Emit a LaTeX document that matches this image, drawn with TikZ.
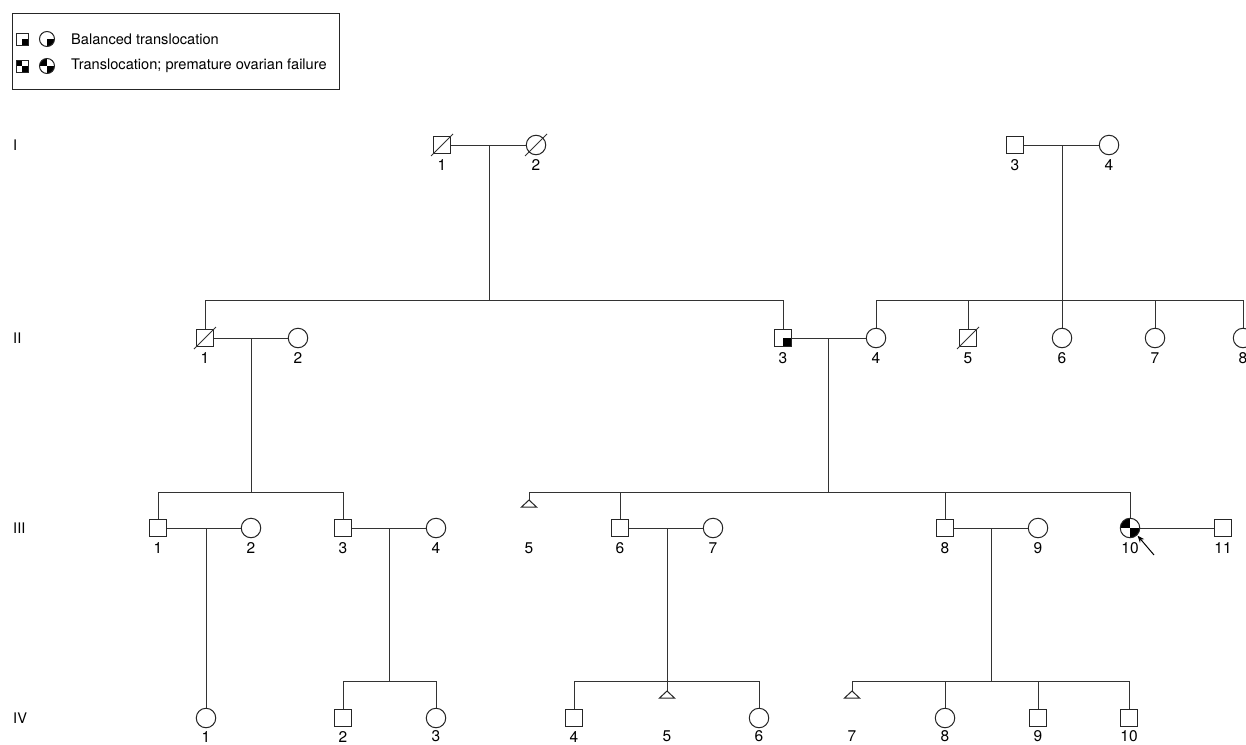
\documentclass[tikz,border=0pt]{standalone}
\usepackage{fontspec}
\setmainfont{TeX Gyre Heros}
\usetikzlibrary{arrows.meta,calc}
\begin{document}
\begin{tikzpicture}[x=1pt,y=-1pt,
  ln/.style={draw=black!80,line width=1pt},
  sym/.style={draw=black!85,line width=1pt,fill=white,inner sep=0pt,outer sep=0pt},
  male/.style={sym,rectangle,minimum size=17.5pt},
  female/.style={sym,circle,minimum size=19.5pt},
  lmale/.style={sym,rectangle,minimum size=12pt},
  lfemale/.style={sym,circle,minimum size=15pt},
  num/.style={font=\fontsize{15.5}{18}\selectfont,inner sep=0pt},
  txt/.style={font=\fontsize{14.6}{17}\selectfont,inner sep=0pt,anchor=west},
  qbr/.style={path picture={\fill[black] (path picture bounding box.center) rectangle (path picture bounding box.south east);}},
  qchk/.style={path picture={\fill[black] (path picture bounding box.center) rectangle (path picture bounding box.south east);
                              \fill[black] (path picture bounding box.center) rectangle (path picture bounding box.north west);}},
  tri/.style={draw=black!85,line width=1pt,fill=white},
  ptr/.style={draw=black,line width=1pt,-{Stealth[length=7pt,width=5.5pt]}},
]
\useasboundingbox (0,0) rectangle (1246,744);

% ---------- legend ----------
\draw[draw=black!85,line width=0.8pt] (12,13) rectangle (339,89);
\node[lmale,qbr] (Lsq1) at (22,39) {};
\node[lfemale,qbr] (Lci1) at (47,39) {};
\node[txt] (Lt1) at (71,39) {Balanced translocation};
\node[lmale,qchk] (Lsq2) at (22,66) {};
\node[lfemale,qchk] (Lci2) at (47,66) {};
\node[txt] (Lt2) at (71,66) {Translocation; premature ovarian failure};

% ---------- generation labels ----------
\node[txt] (gI) at (13,145) {I};
\node[txt] (gII) at (13,338) {II};
\node[txt] (gIII) at (13,528) {III};
\node[txt] (gIV) at (13,718) {IV};

% ---------- generation I ----------
\node[male] (I1) at (442,145) {};
\node[female] (I2) at (536,145) {};
\node[male] (I3) at (1015,145) {};
\node[female] (I4) at (1109,145) {};
\draw[ln] ($(I1.center)+(-11,11)$) -- ($(I1.center)+(11,-11)$);
\draw[ln] ($(I2.center)+(-11,11)$) -- ($(I2.center)+(11,-11)$);
\node[num] (lI1) at (442,165) {1};
\node[num] (lI2) at (536,165) {2};
\node[num] (lI3) at (1015,165) {3};
\node[num] (lI4) at (1109,165) {4};

% ---------- generation II ----------
\node[male] (II1) at (205,338) {};
\node[female] (II2) at (298,338) {};
\node[male,qbr] (II3) at (783,338) {};
\node[female] (II4) at (876,338) {};
\node[male] (II5) at (968,338) {};
\node[female] (II6) at (1062,338) {};
\node[female] (II7) at (1155,338) {};
\node[female] (II8) at (1243,338) {};
\draw[ln] ($(II1.center)+(-11,11)$) -- ($(II1.center)+(11,-11)$);
\draw[ln] ($(II5.center)+(-11,11)$) -- ($(II5.center)+(11,-11)$);
\node[num] (lII1) at (205,358) {1};
\node[num] (lII2) at (298,358) {2};
\node[num] (lII3) at (783,358) {3};
\node[num] (lII4) at (876,358) {4};
\node[num] (lII5) at (968,358) {5};
\node[num] (lII6) at (1062,358) {6};
\node[num] (lII7) at (1155,358) {7};
\node[num] (lII8) at (1243,358) {8};

% ---------- generation III ----------
\coordinate (III5) at (529,500);
\node[male] (III1) at (158,528) {};
\node[female] (III2) at (251,528) {};
\node[male] (III3) at (343,528) {};
\node[female] (III4) at (436,528) {};
\node[male] (III6) at (620,528) {};
\node[female] (III7) at (713,528) {};
\node[male] (III8) at (945,528) {};
\node[female] (III9) at (1038,528) {};
\node[female,qchk] (III10) at (1130,528) {};
\node[male] (III11) at (1223,528) {};
\node[num] (lIII1) at (158,548) {1};
\node[num] (lIII2) at (251,548) {2};
\node[num] (lIII3) at (343,548) {3};
\node[num] (lIII4) at (436,548) {4};
\node[num] (lIII5) at (529,548) {5};
\node[num] (lIII6) at (620,548) {6};
\node[num] (lIII7) at (713,548) {7};
\node[num] (lIII8) at (945,548) {8};
\node[num] (lIII9) at (1038,548) {9};
\node[num] (lIII10) at (1130,548) {10};
\node[num] (lIII11) at (1223,548) {11};

% ---------- generation IV ----------
\node[female] (IV1) at (206,718) {};
\node[male] (IV2) at (343,718) {};
\node[female] (IV3) at (436,718) {};
\node[male] (IV4) at (574,718) {};
\coordinate (IV5) at (667,691);
\node[female] (IV6) at (759,718) {};
\coordinate (IV7) at (852,691);
\node[female] (IV8) at (945,718) {};
\node[male] (IV9) at (1038,718) {};
\node[male] (IV10) at (1129,718) {};
\node[num] (lIV1) at (206,736.5) {1};
\node[num] (lIV2) at (343,736.5) {2};
\node[num] (lIV3) at (436,736.5) {3};
\node[num] (lIV4) at (574,736.5) {4};
\node[num] (lIV5) at (667,736.5) {5};
\node[num] (lIV6) at (759,736.5) {6};
\node[num] (lIV7) at (852,736.5) {7};
\node[num] (lIV8) at (945,736.5) {8};
\node[num] (lIV9) at (1038,736.5) {9};
\node[num] (lIV10) at (1129,736.5) {10};

% ---------- marriage lines and descents ----------
\coordinate (mI12) at (489,145);
\coordinate (sII1) at (489,300);
\coordinate (mI34) at (1062,145);
\coordinate (sII2) at (1062,300);
\draw[ln] (I1) -- (I2);
\draw[ln] (I3) -- (I4);
\draw[ln] (mI12) -- (sII1);
\draw[ln] (mI34) -- (sII2);
\draw[ln] (II1) -- (II1 |- sII1) -- (II3 |- sII1) -- (II3);
\draw[ln] (II4) -- (II4 |- sII2) -- (II8 |- sII2) -- (II8);
\draw[ln] (II5) -- (II5 |- sII2);
\draw[ln] (II6) -- (II6 |- sII2);
\draw[ln] (II7) -- (II7 |- sII2);

\coordinate (mII12) at (251,338);
\coordinate (sIII1) at (251,492);
\coordinate (mII34) at (828,338);
\coordinate (sIII2) at (828,492);
\draw[ln] (II1) -- (II2);
\draw[ln] (II3) -- (II4);
\draw[ln] (mII12) -- (sIII1);
\draw[ln] (mII34) -- (sIII2);
\draw[ln] (III1) -- (III1 |- sIII1) -- (III3 |- sIII1) -- (III3);
\draw[ln] (III5) -- (III5 |- sIII2) -- (III10 |- sIII2) -- (III10);
\draw[ln] (III6) -- (III6 |- sIII2);
\draw[ln] (III8) -- (III8 |- sIII2);
\draw[tri] (III5) -- ++(7.5,7) -- ++(-15,0) -- cycle;

\coordinate (mIII12) at (206,528);
\coordinate (mIII34) at (389,528);
\coordinate (sIV1) at (389,681);
\coordinate (mIII67) at (667,528);
\coordinate (sIV2) at (667,681);
\coordinate (mIII89) at (991,528);
\coordinate (sIV3) at (991,681);
\draw[ln] (III1) -- (III2);
\draw[ln] (III3) -- (III4);
\draw[ln] (III6) -- (III7);
\draw[ln] (III8) -- (III9);
\draw[ln] (III10) -- (III11);
\draw[ln] (mIII12) -- (IV1);
\draw[ln] (mIII34) -- (sIV1);
\draw[ln] (mIII67) -- (sIV2);
\draw[ln] (mIII89) -- (sIV3);
\draw[ln] (IV2) -- (IV2 |- sIV1) -- (IV3 |- sIV1) -- (IV3);
\draw[ln] (IV4) -- (IV4 |- sIV2) -- (IV6 |- sIV2) -- (IV6);
\draw[ln] (IV5) -- (IV5 |- sIV2);
\draw[tri] (IV5) -- ++(7.5,7) -- ++(-15,0) -- cycle;
\draw[ln] (IV7) -- (IV7 |- sIV3) -- (IV10 |- sIV3) -- (IV10);
\draw[ln] (IV8) -- (IV8 |- sIV3);
\draw[ln] (IV9) -- (IV9 |- sIV3);
\draw[tri] (IV7) -- ++(7.5,7) -- ++(-15,0) -- cycle;

% ---------- proband arrow ----------
\coordinate (arr) at (1154,555);
\draw[ptr,shorten >=1pt] (arr) -- (III10.south east);
\end{tikzpicture}
\end{document}
